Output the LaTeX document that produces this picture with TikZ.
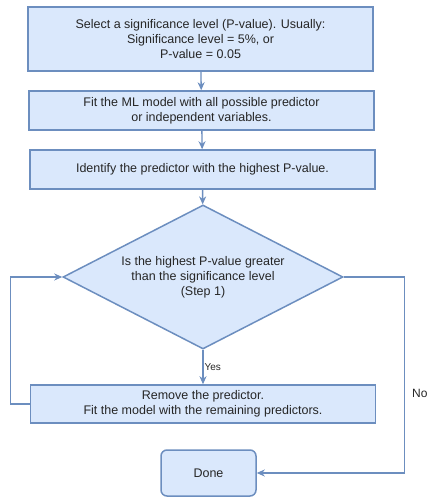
\documentclass[tikz,border=0pt]{standalone}
\usepackage{fontspec}
\setmainfont{Liberation Sans}
\usetikzlibrary{shapes.geometric,arrows.meta}
\definecolor{boxfill}{HTML}{DAE8FC}
\definecolor{boxline}{HTML}{6C8EBF}
\definecolor{txt}{HTML}{262626}
\tikzset{
  stepbox/.style={draw=boxline, fill=boxfill, line width=1.5pt, minimum width=345pt,
    align=center, text=txt, font=\fontsize{12.5}{15}\selectfont},
  decision/.style={diamond, draw=boxline, fill=boxfill, line width=1.5pt, aspect=2,
    minimum width=280pt, minimum height=144pt, inner sep=0pt, align=center,
    text=txt, font=\fontsize{12.5}{15}\selectfont},
  donebox/.style={stepbox, rounded corners=6pt, minimum width=95pt, minimum height=46pt},
  link/.style={draw=boxline, line width=1.3pt, -{Stealth[length=8pt,width=7pt,inset=2.5pt]}},
  lbl/.style={text=txt, inner sep=1pt}
}
\begin{document}
\begin{tikzpicture}[x=1pt,y=-1pt]
  \useasboundingbox (0,0) rectangle (429,497);
  % steps
  \node[stepbox, minimum height=64pt] (sel) at (200.5,39)
    {Select a significance level (P-value). Usually:\\Significance level = 5\%, or\\P-value = 0.05};
  \node[stepbox, minimum height=39pt] (fit) at (201.5,110.5)
    {Fit the ML model with all possible predictor\\or independent variables.};
  \node[stepbox, minimum height=39pt] (ident) at (202.5,169.5)
    {Identify the predictor with the highest P-value.};
  \node[decision] (test) at (203,277)
    {Is the highest P-value greater\\than the significance level\\(Step 1)};
  \node[stepbox, minimum height=38pt] (remove) at (203,404)
    {Remove the predictor.\\Fit the model with the remaining predictors.};
  \node[donebox] (done) at (208.5,473) {Done};
  % arrows
  \draw[link] (sel) -- (fit);
  \draw[link] (fit) -- (ident);
  \draw[link] (ident) -- (test);
  \draw[link] (test) -- node[lbl, right, font=\fontsize{10}{12}\selectfont] (yes) {Yes} (remove);
  \draw[link] (remove.west) -- ++(-19,0) |- (test.west);
  \draw[link] (test.east) -- ++(61,0) |- (done.east);
  \node[lbl, anchor=west, font=\fontsize{12}{14}\selectfont] (no) at (411,393) {No};
\end{tikzpicture}
\end{document}
